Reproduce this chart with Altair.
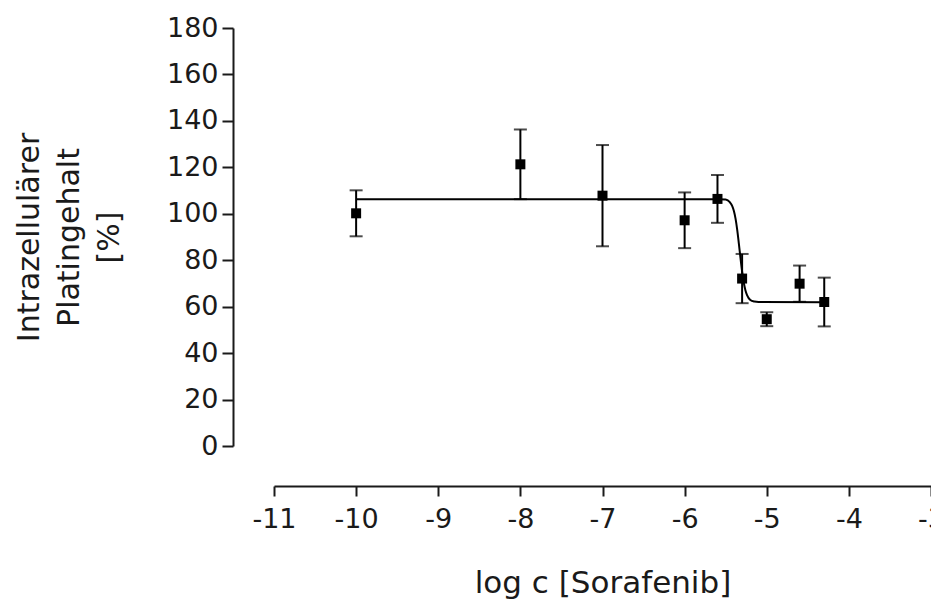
import altair as alt
import pandas as pd

# measured points
log_c = [-10, -8, -7, -6, -5.6, -5.3, -5, -4.6, -4.3]
mean = [100.2, 121.3, 107.8, 97.2, 106.4, 72.1, 54.6, 69.9, 62.0]
sem = [9.9, 15.0, 21.8, 12.0, 10.3, 10.6, 3.0, 7.8, 10.5]

# fitted curve
curve_x = [-10, -5.6, -5.5, -5.45, -5.42, -5.4, -5.38, -5.36, -5.34, -5.32,
           -5.3, -5.28, -5.26, -5.24, -5.2, -5.15, -5.1, -4.3]
curve_y = [106.3, 106.3, 106.1, 105.0, 103.3, 101.2, 97.9, 93.2, 87.3, 81.0,
           75.1, 70.4, 67.1, 65.0, 62.9, 62.2, 62.0, 61.9]

x_ticks = [-11, -10, -9, -8, -7, -6, -5, -4, -3]
y_ticks = [0, 20, 40, 60, 80, 100, 120, 140, 160, 180]

pts = pd.DataFrame({"x": log_c, "y": mean, "e": sem})
pts["lo"] = pts["y"] - pts["e"]
pts["hi"] = pts["y"] + pts["e"]
cur = pd.DataFrame({"x": curve_x, "y": curve_y})

FONT = "DejaVu Sans"
INK = "#1a1a1a"

xscale = alt.Scale(domain=[-11, -3], nice=False, zero=False)
yscale = alt.Scale(domain=[0, 180], nice=False)

xaxis = alt.Axis(values=x_ticks, labelExpr="'' + datum.value", offset=40,
                 title="log c [Sorafenib]", titleY=82, titleFontSize=31,
                 labelPadding=10, tickSize=10, labelFlush=False,
                 labelOverlap=False, grid=False)
yaxis = alt.Axis(values=y_ticks, offset=41, tickSize=11, labelPadding=4,
                 title=["Intrazellulärer", "Platingehalt", "[%]"],
                 titleX=-189, titleLineHeight=40, titleFontSize=30,
                 labelFlush=False, labelOverlap=False, grid=False)

line = alt.Chart(cur).mark_line(color="black", strokeWidth=2, interpolate="monotone").encode(
    x=alt.X("x:Q", scale=xscale, axis=xaxis),
    y=alt.Y("y:Q", scale=yscale, axis=yaxis),
)

bars = alt.Chart(pts).mark_rule(color="black", strokeWidth=2).encode(
    x=alt.X("x:Q", scale=xscale),
    y=alt.Y("lo:Q", scale=yscale),
    y2="hi:Q",
)
cap_lo = alt.Chart(pts).mark_tick(color="black", thickness=2, size=13, orient="horizontal").encode(
    x=alt.X("x:Q", scale=xscale),
    y=alt.Y("lo:Q", scale=yscale),
)
cap_hi = alt.Chart(pts).mark_tick(color="black", thickness=2, size=13, orient="horizontal").encode(
    x=alt.X("x:Q", scale=xscale),
    y=alt.Y("hi:Q", scale=yscale),
)
dots = alt.Chart(pts).mark_square(color="black", size=100, opacity=1, filled=True).encode(
    x=alt.X("x:Q", scale=xscale),
    y=alt.Y("y:Q", scale=yscale),
)

chart = alt.layer(line, bars, cap_lo, cap_hi, dots).properties(
    width=657, height=418,
    autosize=alt.AutoSizeParams(type="none"),
    padding={"left": 266, "top": 20, "right": 0, "bottom": 154},
).configure_view(stroke=None).configure_axis(
    domainColor=INK, domainWidth=2, tickColor=INK, tickWidth=2,
    labelFont=FONT, labelFontSize=27, labelColor=INK,
    titleFont=FONT, titleColor=INK, titleFontWeight="normal",
)

chart.save("out.html", embed_options={"renderer": "svg", "actions": False})
